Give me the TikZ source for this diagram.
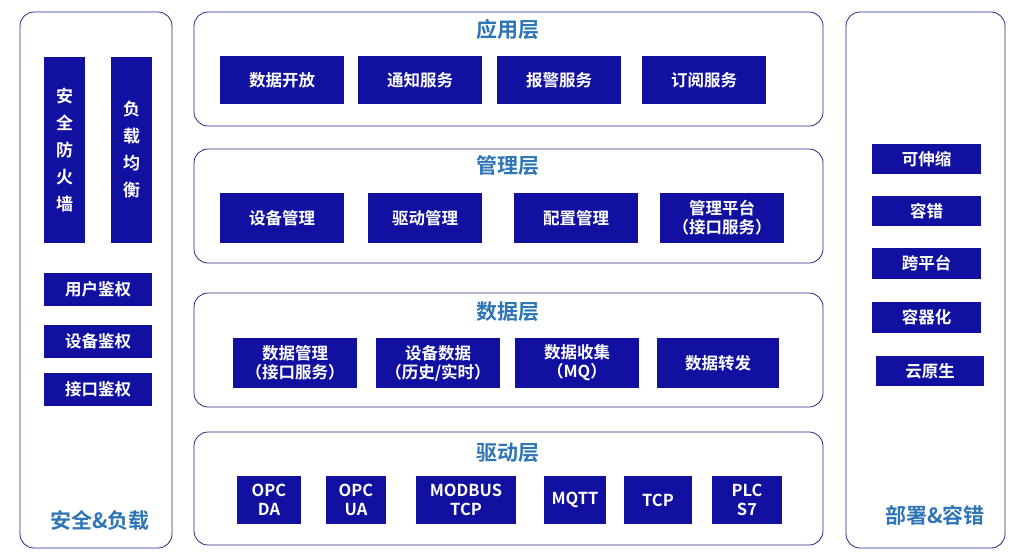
\documentclass[tikz,border=0pt]{standalone}
\usepackage{fontspec}
\setmainfont{Noto Sans CJK SC}[BoldFont={* Bold}]
\definecolor{boxblue}{RGB}{18,16,160}
\definecolor{headblue}{RGB}{46,117,182}
\definecolor{frame}{RGB}{40,40,130}
\begin{document}
\begin{tikzpicture}[x=1pt,y=-1pt,
  panel/.style={draw=frame,line width=0.8pt,rounded corners=14pt},
  bx/.style={fill=boxblue,text=white,font=\bfseries\fontsize{16.5}{19}\selectfont,align=center,inner sep=0pt},
  vbx/.style={bx,font=\bfseries\fontsize{17}{27}\selectfont},
  head/.style={text=headblue,font=\bfseries\fontsize{21}{23}\selectfont,inner sep=0pt}]
\useasboundingbox (0,0) rectangle (1024,558);
\def\bxr#1#2#3#4#5#6{\path[bx] (#2,#3) rectangle (#4,#5) node[bx,midway] (#1) {#6};}
\def\vbxr#1#2#3#4#5#6{\path[bx] (#2,#3) rectangle (#4,#5) node[vbx,midway] (#1) {#6};}
% panels
\draw[panel] (20,12) rectangle (172,548);
\draw[panel] (846,12) rectangle (1005,548);
\draw[panel] (194,12) rectangle (823,126);
\draw[panel] (194,149) rectangle (823,263);
\draw[panel] (194,293) rectangle (823,407);
\draw[panel] (194,432) rectangle (823,545);
% left
\vbxr{fw}{44}{57}{85}{243}{安\\全\\防\\火\\墙}
\vbxr{lb}{111}{57}{152}{243}{负\\载\\均\\衡}
\bxr{ua}{44}{273}{152}{306}{用户鉴权}
\bxr{da}{44}{325}{152}{358}{设备鉴权}
\bxr{ia}{44}{373}{152}{406}{接口鉴权}
\node[head] (lt) at (100,520) {安全\&负载};
% right
\bxr{r1}{872}{144}{981}{174}{可伸缩}
\bxr{r2}{872}{196}{981}{226}{容错}
\bxr{r3}{872}{248}{981}{279}{跨平台}
\bxr{r4}{872}{302}{981}{333}{容器化}
\bxr{r5}{876}{356}{984}{386}{云原生}
\node[head] (rt) at (935,515) {部署\&容错};
% app
\node[head] (h1) at (508,30) {应用层};
\bxr{a1}{220}{56}{344}{104}{数据开放}
\bxr{a2}{358}{56}{482}{104}{通知服务}
\bxr{a3}{497}{56}{621}{104}{报警服务}
\bxr{a4}{642}{56}{766}{104}{订阅服务}
% mgmt
\node[head] (h2) at (508,166) {管理层};
\bxr{m1}{220}{193}{344}{243}{设备管理}
\bxr{m2}{368}{193}{482}{243}{驱动管理}
\bxr{m3}{514}{193}{638}{243}{配置管理}
\bxr{m4}{660}{193}{784}{243}{管理平台\\（接口服务）}
% data
\node[head] (h3) at (508,312) {数据层};
\bxr{d1}{233}{338}{357}{388}{数据管理\\（接口服务）}
\bxr{d2}{376}{338}{500}{388}{设备数据\\（历史/实时）}
\bxr{d3}{515}{338}{639}{388}{数据收集\\（MQ）}
\bxr{d4}{657}{338}{779}{388}{数据转发}
% driver
\node[head] (h4) at (508,453) {驱动层};
\bxr{v1}{237}{476}{301}{524}{OPC\\DA}
\bxr{v2}{326}{476}{386}{524}{OPC\\UA}
\bxr{v3}{416}{476}{516}{524}{MODBUS\\TCP}
\bxr{v4}{544}{476}{606}{524}{MQTT}
\bxr{v5}{624}{476}{692}{524}{TCP}
\bxr{v6}{712}{476}{782}{524}{PLC\\S7}
\end{tikzpicture}
\end{document}
